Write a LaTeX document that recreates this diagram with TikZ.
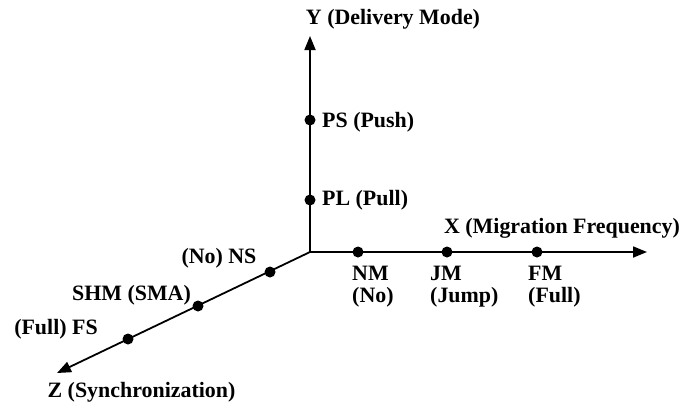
\documentclass[tikz,border=0pt]{standalone}
\usepackage{fontspec}
\setmainfont{Liberation Serif}
\usetikzlibrary{arrows.meta}
\begin{document}
\begin{tikzpicture}[x=1bp,y=-1bp,
  font=\fontsize{22}{22}\selectfont\bfseries,
  axisline/.style={line width=1.8bp,-{Triangle[length=14bp,width=11bp]}},
  dot/.style={circle,fill=black,inner sep=0pt,minimum size=11bp},
  lbl/.style={inner sep=0pt,text=black},
  twoline/.style={lbl,align=left,anchor=north west}]
\useasboundingbox[fill=white] (0,0) rectangle (685,407);
% axes
\coordinate (O) at (310,252);
\coordinate (ytip) at (310,36);
\coordinate (xtip) at (647,252);
\coordinate (ztip) at (57,373);
\draw[axisline] (O) -- (ytip);
\draw[axisline] (O) -- (xtip);
\draw[axisline] (O) -- (ztip);
% dots
\node[dot] (ps) at (310,120) {};
\node[dot] (pl) at (310,200) {};
\node[dot] (nm) at (358,252) {};
\node[dot] (jm) at (447,252) {};
\node[dot] (fm) at (537,252) {};
\node[dot] (ns) at (270,272) {};
\node[dot] (shm) at (198,306) {};
\node[dot] (fs) at (128,339) {};
% labels
\node[lbl] (ylab) at (393,19) {Y (Delivery Mode)};
\node[lbl,anchor=west] (pslab) at (322,122) {PS (Push)};
\node[lbl,anchor=west] (pllab) at (322,200) {PL (Pull)};
\node[lbl] (xlab) at (562,228) {X (Migration Frequency)};
\node[twoline] (nmlab) at (352,266) {NM\\(No)};
\node[twoline] (jmlab) at (430,266) {JM\\(Jump)};
\node[twoline] (fmlab) at (528,266) {FM\\(Full)};
\node[lbl] (nslab) at (219,258) {(No) NS};
\node[lbl] (shmlab) at (131.5,295) {SHM (SMA)};
\node[lbl] (fslab) at (56,329) {(Full) FS};
\node[lbl] (zlab) at (141.5,392) {Z (Synchronization)};
\end{tikzpicture}
\end{document}
